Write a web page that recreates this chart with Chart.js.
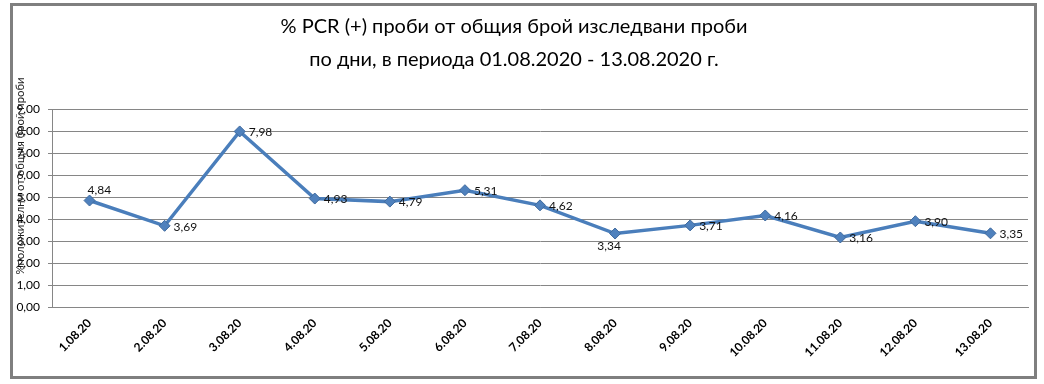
<!DOCTYPE html>
<html>
<head>
<meta charset="utf-8">
<script src="https://cdn.jsdelivr.net/npm/chart.js@4/dist/chart.umd.min.js"></script>
<style>
html,body{margin:0;padding:0;background:#fff;}
#wrap{width:1044px;height:384px;position:relative;}
</style>
</head>
<body>
<div id="wrap"><canvas id="c" width="1044" height="384"></canvas></div>
<script>
const categories = ['1.08.20','2.08.20','3.08.20','4.08.20','5.08.20','6.08.20','7.08.20','8.08.20','9.08.20','10.08.20','11.08.20','12.08.20','13.08.20'];
const percentPositive = [4.84, 3.69, 7.98, 4.93, 4.79, 5.31, 4.62, 3.34, 3.71, 4.16, 3.16, 3.90, 3.35];
const yTickLabels = ['0,00','1,00','2,00','3,00','4,00','5,00','6,00','7,00','8,00','9,00'];
const titleLines = ['% PCR (+) проби от общия брой изследвани проби', 'по дни, в периода 01.08.2020 - 13.08.2020 г.'];
const yAxisTitle = '%положителни от общия брой проби';

const FONT = 'Lato, "Open Sans", sans-serif';

const framePlugin = {
  id: 'frame',
  beforeDraw(chart) {
    const ctx = chart.ctx;
    ctx.save();
    ctx.fillStyle = '#fff';
    ctx.fillRect(0, 0, chart.width, chart.height);
    ctx.strokeStyle = '#7f7f7f';
    ctx.lineWidth = 3;
    ctx.strokeRect(11.5, 4.5, 1024, 373);
    ctx.restore();
  },
  afterDraw(chart) {
    const ctx = chart.ctx;
    ctx.save();
    ctx.translate(20, 176);
    ctx.rotate(-Math.PI / 2);
    ctx.font = '11.3px ' + FONT;
    ctx.fillStyle = '#222';
    ctx.textAlign = 'center';
    ctx.textBaseline = 'middle';
    ctx.fillText(yAxisTitle, 0, 0);
    ctx.restore();
  }
};

// label placement: default right of point
const labelPlacement = {0: 'above', 7: 'below'};
const labelPlugin = {
  id: 'vlabels',
  afterDatasetsDraw(chart) {
    const ctx = chart.ctx;
    const meta = chart.getDatasetMeta(0);
    const data = chart.data.datasets[0].data;
    ctx.save();
    ctx.font = '12px ' + FONT;
    ctx.fillStyle = '#111';
    meta.data.forEach((pt, i) => {
      const txt = data[i].toFixed(2).replace('.', ',');
      const p = labelPlacement[i] || 'right';
      if (p === 'above') {
        ctx.textAlign = 'left'; ctx.textBaseline = 'middle';
        ctx.fillText(txt, pt.x - 2, pt.y - 10);
      } else if (p === 'below') {
        ctx.textAlign = 'center'; ctx.textBaseline = 'middle';
        ctx.fillText(txt, pt.x - 6, pt.y + 13);
      } else {
        ctx.textAlign = 'left'; ctx.textBaseline = 'middle';
        ctx.fillText(txt, pt.x + 9, pt.y + 1);
      }
    });
    ctx.restore();
  }
};

new Chart(document.getElementById('c'), {
  type: 'line',
  data: {
    labels: categories,
    datasets: [{
      data: percentPositive,
      borderColor: '#4A7EBB',
      borderWidth: 3.5,
      pointStyle: 'rectRot',
      pointRadius: 5.5,
      pointBackgroundColor: '#4F81BD',
      pointBorderColor: '#3F6A9E',
      pointBorderWidth: 1,
      tension: 0,
      fill: false
    }]
  },
  options: {
    responsive: false,
    animation: false,
    devicePixelRatio: 1,
    layout: { padding: { left: 0, right: 16, top: 0, bottom: 0 } },
    plugins: {
      legend: { display: false },
      tooltip: { enabled: false },
      title: {
        display: true,
        text: titleLines,
        color: '#000',
        font: { family: FONT, size: 20, weight: 'normal', lineHeight: 1.65 },
        padding: { top: 10, bottom: 33 }
      }
    },
    scales: {
      x: {
        offset: true,
        grid: { display: false, drawTicks: false },
        border: { display: true, color: '#868686', width: 1 },
        ticks: {
          color: '#000',
          font: { family: FONT, size: 12, weight: 'bold' },
          minRotation: 45, maxRotation: 45,
          padding: 9,
          autoSkip: false
        },
        afterFit(scale) { scale.height = 77; }
      },
      y: {
        min: 0, max: 9,
        grid: { color: '#868686', lineWidth: 1, drawTicks: true, tickLength: 4 },
        border: { display: true, color: '#868686', width: 1 },
        ticks: {
          stepSize: 1,
          color: '#000',
          font: { family: FONT, size: 12 },
          padding: 8,
          callback: (v, i) => yTickLabels[i]
        },
        afterFit(scale) { scale.width = 52; }
      }
    }
  },
  plugins: [framePlugin, labelPlugin]
});
</script>
</body>
</html>
